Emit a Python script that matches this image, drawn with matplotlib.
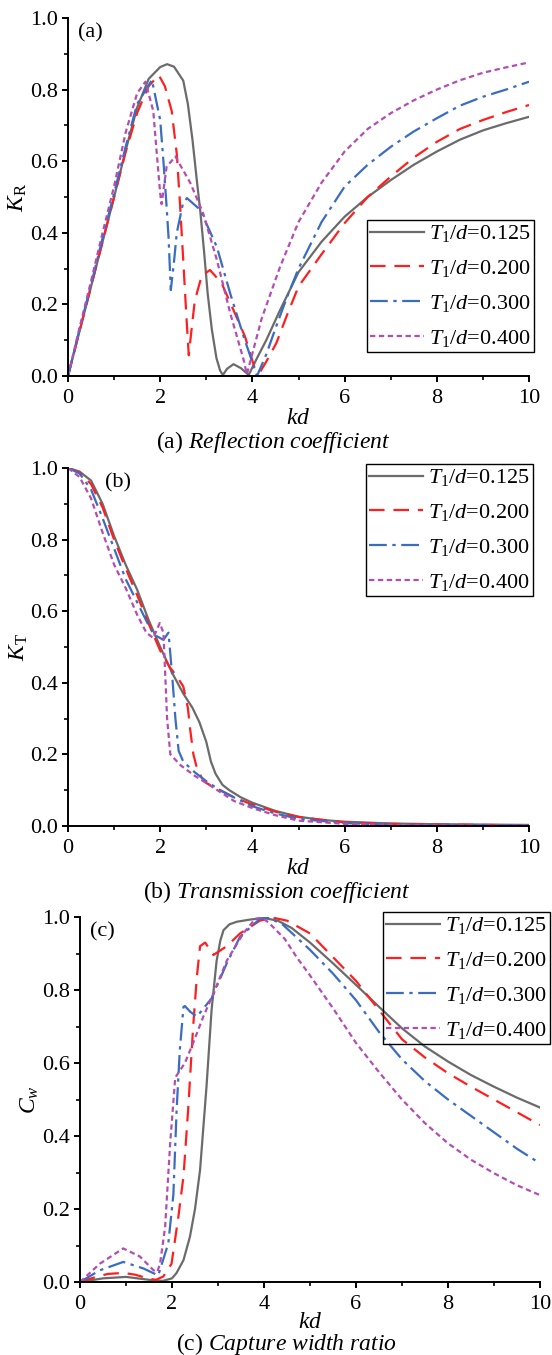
import matplotlib
matplotlib.use("Agg")
import matplotlib.pyplot as plt
from matplotlib.ticker import MultipleLocator

plt.rcParams['font.family'] = ['Liberation Serif', 'DejaVu Serif']
plt.rcParams['mathtext.fontset'] = 'custom'
plt.rcParams['mathtext.rm'] = 'Liberation Serif'
plt.rcParams['mathtext.it'] = 'Liberation Serif:italic'
plt.rcParams['mathtext.bf'] = 'Liberation Serif:bold'

# ---------------- data ----------------
labels = [r"$T_1/d$=0.125", r"$T_1/d$=0.200", r"$T_1/d$=0.300", r"$T_1/d$=0.400"]

# (a) reflection coefficient K_R
kd_a1 = [0, 0.25, 0.5, 0.75, 1.0, 1.25, 1.5, 1.75, 2.0, 2.15, 2.3, 2.5, 2.6, 2.7, 2.8, 2.87,
         2.95, 3.03, 3.12, 3.22, 3.3, 3.36, 3.45, 3.59, 3.75, 3.92, 4.1, 4.3, 4.6, 5.0, 5.5,
         6.0, 6.5, 7.0, 7.5, 8.0, 8.5, 9.0, 9.5, 10]
kr_a1 = [0, 0.125, 0.25, 0.375, 0.50, 0.63, 0.75, 0.83, 0.863, 0.871, 0.864, 0.825, 0.76, 0.66,
         0.54, 0.46, 0.35, 0.23, 0.13, 0.05, 0.015, 0.003, 0.02, 0.033, 0.022, 0.003, 0.05, 0.10,
         0.184, 0.29, 0.375, 0.445, 0.50, 0.547, 0.59, 0.627, 0.66, 0.686, 0.706, 0.724]
kd_a2 = [0, 0.25, 0.5, 0.75, 1.0, 1.25, 1.5, 1.75, 1.97, 2.1, 2.25, 2.36, 2.43, 2.51, 2.58, 2.62,
         2.68, 2.75, 2.9, 3.08, 3.33, 3.59, 3.84, 4.05, 4.16, 4.3, 4.52, 4.75, 5.0, 5.5, 6.0,
         6.5, 7.0, 7.5, 8.0, 8.5, 9.0, 9.5, 10]
kr_a2 = [0, 0.125, 0.25, 0.375, 0.50, 0.625, 0.735, 0.81, 0.84, 0.81, 0.74, 0.62, 0.48, 0.30,
         0.14, 0.058, 0.13, 0.21, 0.28, 0.296, 0.26, 0.184, 0.11, 0.022, 0.01, 0.04, 0.092,
         0.17, 0.25, 0.34, 0.427, 0.50, 0.557, 0.61, 0.654, 0.69, 0.715, 0.737, 0.757]
kd_a3 = [0, 0.25, 0.5, 0.75, 1.0, 1.25, 1.5, 1.82, 2.0, 2.07, 2.13, 2.18, 2.23, 2.3, 2.36, 2.49,
         2.58, 2.87, 3.23, 3.52, 3.81, 4.1, 4.3, 4.52, 4.75, 5.0, 5.5, 6.0, 6.5, 7.0, 7.5, 8.0,
         8.5, 9.0, 9.5, 10]
kr_a3 = [0, 0.13, 0.255, 0.385, 0.51, 0.64, 0.76, 0.827, 0.715, 0.60, 0.49, 0.39, 0.24, 0.32,
         0.40, 0.48, 0.497, 0.464, 0.36, 0.23, 0.11, 0.0, 0.06, 0.14, 0.22, 0.30, 0.43, 0.529,
         0.59, 0.64, 0.683, 0.72, 0.755, 0.78, 0.80, 0.822]
kd_a4 = [0, 0.25, 0.5, 0.75, 1.0, 1.25, 1.5, 1.68, 1.85, 1.92, 2.0, 2.03, 2.14, 2.33, 2.65, 2.93,
         3.23, 3.52, 3.81, 3.88, 4.2, 4.6, 5.0, 5.5, 6.0, 6.5, 7.0, 7.5, 8.0, 8.5, 9.0, 9.5, 10]
kr_a4 = [0, 0.135, 0.265, 0.40, 0.53, 0.68, 0.79, 0.822, 0.74, 0.63, 0.51, 0.48, 0.585, 0.613,
         0.54, 0.455, 0.324, 0.175, 0.045, 0.005, 0.16, 0.305, 0.43, 0.54, 0.627, 0.69, 0.734,
         0.77, 0.80, 0.826, 0.847, 0.862, 0.876]

# (b) transmission coefficient K_T
kd_b1 = [0, 0.25, 0.5, 0.75, 1.0, 1.25, 1.5, 1.75, 2.0, 2.25, 2.5, 2.7, 2.85, 3.0, 3.1, 3.2,
         3.35, 3.5, 3.75, 4.0, 4.5, 5.0, 5.5, 6.0, 7.0, 8.0, 9.0, 10]
kt_b1 = [1.0, 0.99, 0.965, 0.9, 0.81, 0.73, 0.66, 0.575, 0.50, 0.43, 0.37, 0.33, 0.29, 0.235,
         0.18, 0.146, 0.115, 0.10, 0.08, 0.065, 0.042, 0.026, 0.017, 0.012, 0.007, 0.005,
         0.004, 0.003]
kd_b2 = [0, 0.25, 0.5, 0.75, 1.0, 1.25, 1.5, 1.75, 2.0, 2.2, 2.35, 2.5, 2.6, 2.65, 2.72, 2.8,
         2.9, 3.0, 3.3, 3.6, 4.0, 4.5, 5.0, 6.0, 7.0, 8.0, 10]
kt_b2 = [1.0, 0.988, 0.955, 0.89, 0.80, 0.72, 0.645, 0.565, 0.49, 0.445, 0.42, 0.39, 0.33,
         0.27, 0.20, 0.16, 0.135, 0.12, 0.10, 0.08, 0.06, 0.04, 0.025, 0.01, 0.006, 0.004, 0.002]
kd_b3 = [0, 0.25, 0.5, 0.75, 1.0, 1.25, 1.5, 1.75, 1.86, 2.07, 2.18, 2.26, 2.33, 2.4, 2.5, 2.75,
         3.0, 3.3, 3.6, 4.0, 4.5, 5.0, 6.0, 7.0, 8.0, 10]
kt_b3 = [1.0, 0.985, 0.94, 0.86, 0.775, 0.69, 0.625, 0.56, 0.535, 0.52, 0.54, 0.42, 0.30, 0.21,
         0.18, 0.15, 0.125, 0.10, 0.08, 0.055, 0.035, 0.02, 0.008, 0.004, 0.003, 0.002]
kd_b4 = [0, 0.25, 0.5, 0.75, 1.0, 1.25, 1.5, 1.7, 1.85, 1.99, 2.07, 2.11, 2.15, 2.22, 2.44,
         2.75, 3.0, 3.3, 3.6, 4.0, 4.5, 5.0, 6.0, 7.0, 8.0, 10]
kt_b4 = [1.0, 0.975, 0.915, 0.82, 0.73, 0.665, 0.59, 0.54, 0.525, 0.567, 0.54, 0.42, 0.30, 0.20,
         0.17, 0.14, 0.12, 0.095, 0.07, 0.05, 0.03, 0.015, 0.006, 0.003, 0.002, 0.001]

# (c) capture width ratio C_w
kd_c1 = [0, 0.25, 0.5, 1.0, 1.5, 1.8, 2.0, 2.1, 2.25, 2.39, 2.5, 2.61, 2.75, 2.86, 2.97, 3.05,
         3.12, 3.25, 3.41, 3.7, 4.0, 4.3, 4.6, 5.0, 5.5, 6.0, 6.5, 7.0, 7.5, 8.0, 8.5, 9.0,
         9.5, 10]
cw_c1 = [0, 0.005, 0.01, 0.014, 0.006, 0.003, 0.01, 0.025, 0.06, 0.124, 0.2, 0.307, 0.535,
         0.745, 0.88, 0.935, 0.964, 0.98, 0.987, 0.993, 0.997, 0.99, 0.97, 0.93, 0.873, 0.814,
         0.754, 0.695, 0.645, 0.604, 0.567, 0.535, 0.505, 0.478]
kd_c2 = [0, 0.3, 0.6, 0.94, 1.2, 1.5, 1.65, 1.81, 1.99, 2.14, 2.25, 2.35, 2.46, 2.54, 2.61, 2.72,
         2.9, 3.19, 3.48, 3.91, 4.2, 4.5, 5.0, 5.5, 6.0, 6.5, 7.0, 7.5, 8.0, 8.5, 9.0, 9.5, 10]
cw_c2 = [0, 0.012, 0.022, 0.025, 0.02, 0.009, 0.006, 0.015, 0.05, 0.18, 0.29, 0.47, 0.70, 0.836,
         0.92, 0.93, 0.896, 0.92, 0.955, 0.99, 0.998, 0.99, 0.955, 0.89, 0.825, 0.745, 0.665,
         0.615, 0.572, 0.535, 0.50, 0.465, 0.43]
kd_c3 = [0, 0.43, 0.94, 1.38, 1.7, 1.92, 2.03, 2.1, 2.17, 2.25, 2.28, 2.4, 2.54, 2.86, 3.19,
         3.48, 3.91, 4.1, 4.4, 5.0, 5.5, 6.0, 6.5, 7.0, 7.5, 8.0, 8.5, 9.0, 9.5, 10]
cw_c3 = [0, 0.032, 0.055, 0.037, 0.018, 0.106, 0.24, 0.47, 0.636, 0.754, 0.756, 0.74, 0.727,
         0.777, 0.873, 0.946, 0.995, 0.998, 0.98, 0.91, 0.845, 0.772, 0.685, 0.61, 0.55, 0.50,
         0.455, 0.41, 0.365, 0.325]
kd_c4 = [0, 0.43, 0.94, 1.3, 1.6, 1.68, 1.74, 1.85, 1.96, 2.07, 2.28, 2.46, 2.68, 2.9, 3.19,
         3.55, 3.81, 3.95, 4.1, 4.45, 4.71, 5.0, 5.5, 6.0, 6.5, 7.0, 7.5, 8.0, 8.5, 9.0, 9.5, 10]
cw_c4 = [0, 0.05, 0.092, 0.07, 0.032, 0.028, 0.05, 0.15, 0.38, 0.56, 0.60, 0.655, 0.727, 0.79,
         0.88, 0.955, 0.995, 0.998, 0.985, 0.94, 0.89, 0.84, 0.75, 0.655, 0.575, 0.50, 0.435,
         0.38, 0.335, 0.298, 0.265, 0.238]

# ---------------- styles ----------------
colors = ['#6b6b6b', '#ff1f1f', '#3a6cc2', '#b44db2']
dashes = [None, (7, 4), (8, 2.5, 1.5, 2.5), (2.4, 1.6)]
LW = 1.6

W, H = 552, 1355
fig = plt.figure(figsize=(W / 100, H / 100), dpi=100)


def px_rect(l, t, r, b):
    return [l / W, (H - b) / H, (r - l) / W, (b - t) / H]


def style_axis(ax):
    ax.set_xlim(0, 10)
    ax.set_ylim(0, 1.0)
    ax.spines['top'].set_visible(False)
    ax.spines['right'].set_visible(False)
    for s in ['left', 'bottom']:
        ax.spines[s].set_linewidth(1.4)
    ax.xaxis.set_major_locator(MultipleLocator(2))
    ax.xaxis.set_minor_locator(MultipleLocator(1))
    ax.yaxis.set_major_locator(MultipleLocator(0.2))
    ax.yaxis.set_minor_locator(MultipleLocator(0.1))
    ax.yaxis.set_major_formatter(matplotlib.ticker.FormatStrFormatter('%.1f'))
    ax.tick_params(which='major', direction='out', length=4.5, width=1.4, labelsize=16)
    ax.tick_params(which='minor', direction='out', length=2.6, width=1.2)
    ax.tick_params(axis='x', which='major', pad=5)
    ax.tick_params(axis='y', which='major', pad=3)


def draw(ax, xs, ys):
    for i in range(4):
        line, = ax.plot(xs[i], ys[i], color=colors[i], lw=LW, label=labels[i],
                        solid_joinstyle='round')
        if dashes[i] is not None:
            line.set_dashes(dashes[i])


panels = [
    dict(rect=(68, 18, 529, 376), xs=[kd_a1, kd_a2, kd_a3, kd_a4], ys=[kr_a1, kr_a2, kr_a3, kr_a4],
         tag="(a)", tag_x=0.022, ylabel=r"$K_\mathrm{R}$", ylab_x=18,
         caption=r"(a) $Reflection\ coefficient$", cap_x=273, leg=(367, 220)),
    dict(rect=(68, 468, 529, 826), xs=[kd_b1, kd_b2, kd_b3, kd_b4], ys=[kt_b1, kt_b2, kt_b3, kt_b4],
         tag="(b)", tag_x=0.08, ylabel=r"$K_\mathrm{T}$", ylab_x=19,
         caption=r"(b) $Transmission\ coefficient$", cap_x=277, leg=(366, 464)),
    dict(rect=(80, 917, 540, 1282), xs=[kd_c1, kd_c2, kd_c3, kd_c4], ys=[cw_c1, cw_c2, cw_c3, cw_c4],
         tag="(c)", tag_x=0.022, ylabel=r"$C_w$", ylab_x=30,
         caption=r"(c) $Capture\ width\ ratio$", cap_x=286, leg=(383, 912)),
]

for k, p in enumerate(panels):
    l, t, r, b = p['rect']
    ax = fig.add_axes(px_rect(l, t, r, b))
    draw(ax, p['xs'], p['ys'])
    style_axis(ax)
    ax.text(p['tag_x'], 0.985, p['tag'], transform=ax.transAxes, ha='left', va='top', fontsize=16)
    fig.text(p['ylab_x'] / W, 1 - ((t + b) / 2) / H, p['ylabel'], rotation=90,
             ha='center', va='center', fontsize=17)
    kd_off, cap_off = (40, 62) if k == 2 else (42, 66)
    fig.text(((l + r) / 2) / W, 1 - (b + kd_off) / H, r"$kd$", ha='center', va='center', fontsize=17)
    fig.text(p['cap_x'] / W, 1 - (b + cap_off) / H, p['caption'], ha='center', va='center',
             fontsize=17)
    lg = ax.legend(loc='upper left', bbox_to_anchor=(p['leg'][0] / W, 1 - p['leg'][1] / H),
                   bbox_transform=fig.transFigure, borderaxespad=0, fontsize=16,
                   handlelength=2.4, handletextpad=0.25, borderpad=0.15, labelspacing=0.62,
                   fancybox=False, framealpha=1, facecolor='none', edgecolor='black')
    lg.get_frame().set_linewidth(1.0)

fig.savefig("out.png", dpi=100)
